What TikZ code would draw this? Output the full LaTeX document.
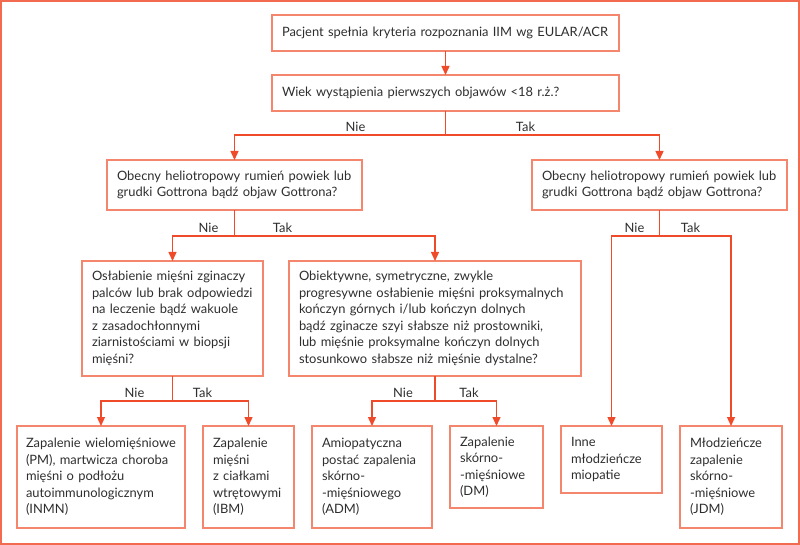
\documentclass[tikz,border=0pt]{standalone}
\usepackage{fontspec}
\setmainfont{Lato}
\usetikzlibrary{arrows.meta}
\definecolor{framec}{HTML}{F26B50}
\definecolor{boxc}{HTML}{F4866E}
\definecolor{arrc}{HTML}{EF4B2B}
\definecolor{txtc}{HTML}{2E2E2E}
\begin{document}
\begin{tikzpicture}[x=1pt, y=-1pt, >={Triangle[length=9pt,width=8pt]},
  box/.style={draw=boxc, line width=1.3pt, anchor=north west, align=left,
    inner xsep=10pt, inner ysep=0pt, outer sep=0pt, text=txtc,
    font=\fontsize{12.9pt}{16.5pt}\selectfont},
  link/.style={draw=arrc, line width=1.3pt, ->},
  lbl/.style={anchor=base, inner sep=0pt, text=txtc,
    font=\fontsize{12.9pt}{15pt}\selectfont}]
  % frame
  \useasboundingbox (0,0) rectangle (800,545);
  \draw[framec, line width=2pt] (1,1) rectangle (799,544);

  % top questions
  \node[box, text width=327pt, minimum height=36pt] (crit) at (272,15)
    {Pacjent spełnia kryteria rozpoznania IIM wg EULAR/ACR};
  \node[box, text width=327pt, minimum height=36pt] (age) at (272,75)
    {Wiek wystąpienia pierwszych objawów <18 r.ż.?};

  % skin signs
  \node[box, text width=235pt, minimum height=50pt] (gotL) at (107,160)
    {Obecny heliotropowy rumień powiek lub\\grudki Gottrona bądź objaw Gottrona?};
  \node[box, text width=235pt, minimum height=50pt] (gotR) at (532,160)
    {Obecny heliotropowy rumień powiek lub\\grudki Gottrona bądź objaw Gottrona?};

  % muscle weakness
  \node[box, text width=161pt, minimum height=115pt] (flex) at (82,261)
    {Osłabienie mięśni zginaczy\\palców lub brak odpowiedzi\\na leczenie bądź wakuole\\z zasadochłonnymi\\ziarnistościami w biopsji\\mięśni?};
  \node[box, text width=272pt, minimum height=115pt] (prox) at (289,261)
    {Obiektywne, symetryczne, zwykle\\progresywne osłabienie mięśni proksymalnych\\kończyn górnych i/lub kończyn dolnych\\bądź zginacze szyi słabsze niż prostowniki,\\lub mięśnie proksymalne kończyn dolnych\\stosunkowo słabsze niż mięśnie dystalne?};

  % diagnoses
  \node[box, inner xsep=9pt, text width=150pt, minimum height=102pt] (pm) at (17,426)
    {Zapalenie wielomięśniowe\\(PM), martwicza choroba\\mięśni o podłożu\\autoimmunologicznym\\(INMN)};
  \node[box, text width=71pt, minimum height=102pt] (ibm) at (203,426)
    {Zapalenie\\mięśni\\z ciałkami\\wtrętowymi\\(IBM)};
  \node[box, text width=100pt, minimum height=102pt] (adm) at (312,426)
    {Amiopatyczna\\postać zapalenia\\skórno-\\-mięśniowego\\(ADM)};
  \node[box, text width=73pt, minimum height=82pt] (dm) at (450,426)
    {Zapalenie\\skórno-\\-mięśniowe\\(DM)};
  \node[box, text width=81pt, minimum height=67pt] (other) at (561,426)
    {Inne\\młodzieńcze\\miopatie};
  \node[box, text width=82pt, minimum height=102pt] (jdm) at (680,426)
    {Młodzieńcze\\zapalenie\\skórno-\\-mięśniowe\\(JDM)};

  % connectors
  \draw[link] (crit.south) -- (age.north);
  \draw[link] (age.south) -- ++(0,24) coordinate (ageJ) -| (gotL.north);
  \draw[link] (ageJ) -| (gotR.north);
  \draw[link] (gotL.south) -- ++(0,26) coordinate (gotLJ) -| (flex.north);
  \draw[link] (gotLJ) -| (prox.north);
  \draw[link] (gotR.south) -- ++(0,26) coordinate (gotRJ) -| (other.north);
  \draw[link] (gotRJ) -| (jdm.north);
  \draw[link] (flex.south) -- ++(0,25) coordinate (flexJ) -| (pm.north);
  \draw[link] (flexJ) -| (ibm.north);
  \draw[link] (prox.south) -- ++(0,25) coordinate (proxJ) -| (adm.north);
  \draw[link] (proxJ) -| (dm.north);

  % answers
  \node[lbl] (ageN) at ([shift={(-90,-3.5)}]ageJ) {Nie};
  \node[lbl] (ageT) at ([shift={(80,-3.5)}]ageJ) {Tak};
  \node[lbl] (gotLN) at ([shift={(-26,-3.5)}]gotLJ) {Nie};
  \node[lbl] (gotLT) at ([shift={(48,-3.5)}]gotLJ) {Tak};
  \node[lbl] (gotRN) at ([shift={(-25,-3.5)}]gotRJ) {Nie};
  \node[lbl] (gotRT) at ([shift={(31,-3.5)}]gotRJ) {Tak};
  \node[lbl] (flexN) at ([shift={(-38,-3.5)}]flexJ) {Nie};
  \node[lbl] (flexT) at ([shift={(30,-3.5)}]flexJ) {Tak};
  \node[lbl] (proxN) at ([shift={(-32,-3.5)}]proxJ) {Nie};
  \node[lbl] (proxT) at ([shift={(34,-3.5)}]proxJ) {Tak};

\end{tikzpicture}
\end{document}
